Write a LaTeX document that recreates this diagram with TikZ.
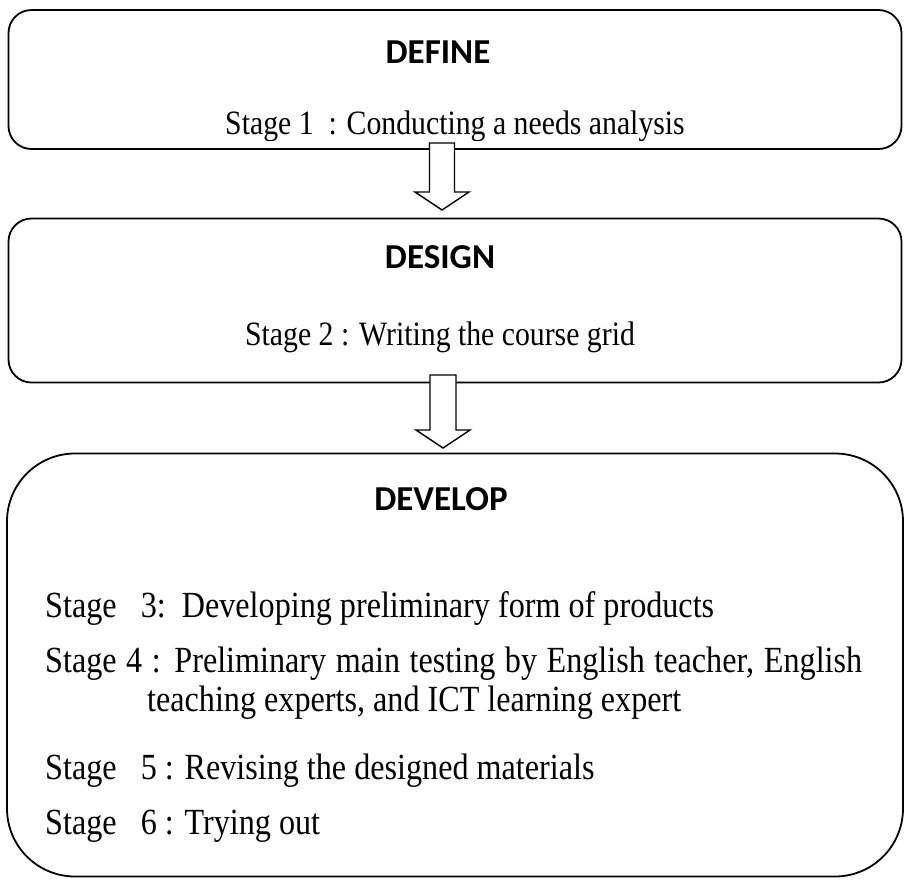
\documentclass[tikz,border=0pt]{standalone}
\usepackage{graphicx}
\usepackage{fontspec}
\setmainfont{Liberation Serif}
\newfontfamily\headfont{Carlito}
\newcommand{\tallt}[1]{\scalebox{0.96}[1.1]{#1}}
\begin{document}
\begin{tikzpicture}[x=1pt,y=-1pt,
  box/.style={draw=black, line width=1.8pt, fill=white, inner sep=0pt},
  blockarrow/.style={draw=black, line width=1.4pt, fill=white, line join=miter},
  head/.style={font=\headfont\bfseries\fontsize{35}{40}\selectfont, inner sep=0pt, anchor=base},
  body/.style={font=\fontsize{31}{36}\selectfont, inner sep=0pt},
  bodyb/.style={font=\fontsize{33.5}{38}\selectfont, inner sep=0pt, anchor=base west},
]
\useasboundingbox (0,0) rectangle (905,879);
% boxes
\node[box, rounded corners=23pt, minimum width=893pt, minimum height=139pt] (b1) at (455,79.5) {};
\node[box, rounded corners=23pt, minimum width=893pt, minimum height=164pt] (b2) at (455,300.5) {};
\node[box, rounded corners=68pt, minimum width=896pt, minimum height=423pt] (b3) at (455,665) {};
% texts box 1
\node[head] (t1) at (438,63) {DEFINE};
\begin{scope}
\clip (0,0) rectangle (905,140);
\node[body, anchor=base] (s1) at (455,134) {\tallt{Stage 1\ \ : Conducting a needs analysis}};
\end{scope}
% box 2
\node[head] (t2) at (440,268) {DESIGN};
\node[body, anchor=base] (s2) at (440,345) {\tallt{Stage 2 : Writing the course grid}};
% box 3
\node[head] (t3) at (441,510) {DEVELOP};
\node[bodyb] (s3) at (45,617) {\tallt{Stage\ \ \ 3:\ \ Developing preliminary form of products}};
\node[bodyb] (s4) at (45,672) {\tallt{\makebox[851pt][s]{Stage 4 : Preliminary main testing by English teacher, English}}};
\node[bodyb] (s4b) at (147,711) {\tallt{teaching experts, and ICT learning expert}};
\node[bodyb] (s5) at (45,779) {\tallt{Stage\ \ \ 5 : Revising the designed materials}};
\node[bodyb] (s6) at (45,834) {\tallt{Stage\ \ \ 6 : Trying out}};
% block arrows between boxes
\draw[blockarrow] (429.5,143) -- (454.5,143) -- (454.5,192) -- (469,192) -- (442,210)
  -- (415,192) -- (429.5,192) -- cycle;
\draw[blockarrow] (430,375) -- (456,375) -- (456,430) -- (470,430) -- (443,448)
  -- (416,430) -- (430,430) -- cycle;
\end{tikzpicture}
\end{document}
